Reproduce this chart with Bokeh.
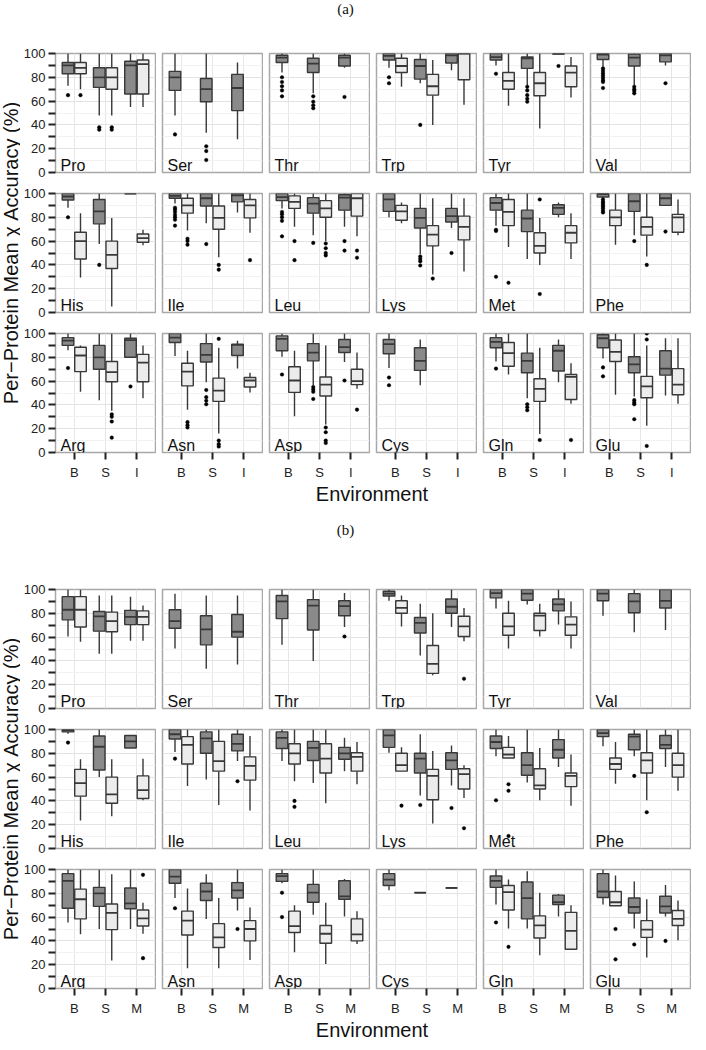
import math
from bokeh.plotting import figure
from bokeh.models import ColumnDataSource, FactorRange, FixedTicker, CategoricalTicker, Label, Range1d
from bokeh.transform import dodge
from bokeh.layouts import row, column
from bokeh.embed import file_html
from bokeh.resources import INLINE

N = None
AMINO = ["Pro", "Ser", "Thr", "Trp", "Tyr", "Val",
         "His", "Ile", "Leu", "Lys", "Met", "Phe",
         "Arg", "Asn", "Asp", "Cys", "Gln", "Glu"]
ENV_A = ["B", "S", "I"]
ENV_B = ["B", "S", "M"]
SERIES = ["dark", "light"]
Y_MAJOR = [0, 20, 40, 60, 80, 100]
Y_MINOR = [10, 30, 50, 70, 90]

# columns in each row: B-dark, B-light, S-dark, S-light, I/M-dark, I/M-light
A_LOW = [
    [73, 70, 48, 48, 55, 55], [48, N, 33.5, N, 28, N], [84, N, 66.5, N, 88, N],
    [88, 72, 75, 40, 86, 57], [90, 56, 73.5, 37, 99.5, 63], [89, N, 73.5, N, 90, N],
    [88, 29.5, 57.5, 5, 100, 56.5], [91.5, 69, 75, 46.5, 84, 67], [87.5, 72, 65, 60, 72, 64],
    [80, 75, 49, 32, 71, 34.5], [73, 55, 45, 40, 80, 45], [96, 57, 65, 47, 90, 65],
    [86, 51, 44, 35, 80, 45.5], [81, 36, 59, 16, 70.5, 50.5], [80.5, 30.5, 56.5, 23.5, 76, 53.5],
    [71, N, 56.5, N, N, N], [76.5, 65.5, 45.5, 15.5, 59, 41], [79, 48.5, 47, 22.5, 48, 41]]
A_Q1 = [
    [83, 83, 71.5, 70, 66, 66], [69, N, 59.5, N, 52, N], [92.5, N, 84, N, 89.5, N],
    [94.5, 84, 78.5, 65, 92, 78], [94.5, 70, 87.5, 64.5, 99.5, 72], [95, N, 89.5, N, 93, N],
    [94.5, 45, 74.5, 37, 100, 59], [96, 83.5, 89.5, 70, 93, 79.5], [94, 87.5, 83.5, 80, 86, 81],
    [85, 77.5, 71, 56, 76, 61], [86, 73, 68, 50, 82.5, 58.5], [97, 73, 85, 65, 90, 67.5],
    [90, 68, 70, 59.5, 80, 59.5], [92.5, 56, 76, 43, 81.5, 55], [85.5, 50.5, 77, 47.5, 84, 57],
    [83, N, 69, N, N, N], [88, 72.5, 67, 43, 68.5, 44.5], [88, 76.5, 67, 46, 65, 48.5]]
A_MED = [
    [90, 88, 80, 80, 90, 91], [80, N, 70, N, 71, N], [96.5, N, 91.5, N, 96.5, N],
    [98, 89.5, 89.5, 72.5, 98.5, 100], [97, 77, 96, 75, 100, 84], [99, N, 96.5, N, 98.5, N],
    [97.5, 60, 85, 48.5, 100, 62.5], [98, 90, 96, 79.5, 98.5, 90], [97, 93, 91.5, 87.5, 96.5, 96],
    [95, 85, 79.5, 65.5, 81, 72], [92, 84.5, 79, 56, 88, 67], [99.5, 80, 93.5, 72, 96, 80],
    [94, 81.5, 80, 67.5, 94.5, 75.5], [96.5, 68, 82, 52, 90.5, 60.5], [95.5, 60.5, 84, 57, 88.5, 60],
    [91, N, 77, N, N, N], [93, 83.5, 77, 53.5, 85.5, 63.5], [96, 84.5, 74, 55.5, 70.5, 57]]
A_Q3 = [
    [92.5, 92.5, 88, 88, 93.5, 94.5], [85, N, 79, N, 82.5, N], [98.5, N, 96, N, 98.5, N],
    [100, 96, 95, 82.5, 100, 100], [100, 84, 97, 84, 100, 89.5], [100, N, 99.5, N, 100, N],
    [100, 67.5, 95, 60, 100, 66], [100, 96, 100, 89.5, 100, 95], [100, 98, 96.5, 94, 99, 100],
    [100, 90, 87.5, 73, 87.5, 81], [96.5, 95, 86, 67, 90.5, 73], [100, 86, 100, 80, 100, 82.5],
    [96.5, 88.5, 90, 76.5, 96, 82.5], [100, 75, 91.5, 62.5, 91, 63], [98, 72, 91.5, 63.5, 95, 70],
    [95, N, 88, N, N, N], [96.5, 92.5, 83.5, 62, 90, 65.5], [99, 94.5, 80.5, 64, 85.5, 70.5]]
A_HIGH = [
    [100, 100, 100, 100, 100, 100], [100, N, 100, N, 92.5, N], [100, N, 100, N, 100, N],
    [100, 100, 100, 94.5, 100, 100], [100, 100, 100, 100, 100, 97], [100, N, 100, N, 100, N],
    [100, 83.5, 100, 79.5, 100, 69.5], [100, 100, 100, 100, 100, 100], [100, 100, 100, 100, 100, 100],
    [100, 92.5, 100, 96, 100, 96], [100, 100, 100, 79.5, 92.5, 83.5], [100, 100, 100, 100, 100, 95],
    [100, 90, 100, 100, 100, 90], [100, 85.5, 100, 88, 94, 67], [100, 85.5, 100, 90, 100, 84],
    [100, N, 95, N, N, N], [100, 100, 100, 88, 95, 75], [100, 100, 100, 90, 96, 96]]
A_OUT = [
    [[65], [65], [38, 36], [38, 36], [], []],
    [[32], [], [22, 18, 10.5], [], [], []],
    [[80, 76, 72.5, 69, 64], [], [64, 59.5, 56.5, 54], [], [63.5], []],
    [[80, 75], [], [40], [], [], []],
    [[83], [], [72, 69, 65, 62, 59.5], [], [89.5], []],
    [[87.5, 85.5, 83.5, 81.5, 79.5, 77.5, 76, 71], [], [72, 70, 68.5, 66.5], [], [75], []],
    [[80], [], [40], [], [], []],
    [[88, 86.5, 84.5, 82, 80, 78, 73], [62, 60, 57], [57.5], [40, 36], [], [44]],
    [[84.5, 82.5, 80, 77, 64], [60, 44], [58.5], [58, 54, 50, 48], [60, 52], [52, 46]],
    [[], [], [47, 45, 43, 39.5], [28.5], [50], []],
    [[69.5, 68.5, 30], [25], [], [95, 15.5], [], []],
    [[95, 93, 92, 90.5, 89, 87.5, 85.5, 84], [], [60], [40], [68], []],
    [[71], [], [], [32, 30, 26, 12.5], [55.5], []],
    [[], [25.5, 23, 21], [52.5, 46.5, 43.5, 40.5], [95.5, 10, 7, 5], [], []],
    [[65.5], [], [55, 53, 51, 45], [21, 17, 10, 8], [60.5], [36]],
    [[63, 56.5], [], [], [], [], []],
    [[70.5], [], [40.5, 38, 35.5], [10.5], [], [10.5]],
    [[71.5, 64], [], [44, 42, 40.5, 28], [100, 95, 5.5], [], []]]

B_LOW = [
    [60.5, 56, 46, 46, 57, 57], [50.5, N, 33.5, N, 37, N], [53.5, N, 40, N, 68.5, N],
    [90.5, 69, 44.5, 28, 68.5, 56.5], [84, 50.5, 87.5, 60.5, 70.5, 50.5], [78, N, 64, N, 66, N],
    [96.5, 23.5, 60, 27, 84.5, 40.5], [81, 52.5, 58, 36.5, 73.5, 32], [73.5, 56.5, 55, 38, 65, 54],
    [80.5, 65, 44.5, 21, 53, 42.5], [77.5, 76, 55.5, 40.5, 68.5, 36], [86, 54.5, 77.5, 40.5, 68.5, 48.5],
    [55.5, 45.5, 50, 23.5, 50, 46], [76, 17, 58.5, 17, 65.5, 24], [88.5, 30.5, 62, 20.5, 60.5, 37.5],
    [82.5, N, 80.5, N, 84.5, N], [70.5, 50.5, 50.5, 28, 60.5, 32.5], [70.5, 69.5, 50.5, 26, 60.5, 40.5]]
B_Q1 = [
    [74.5, 68.5, 65, 64.5, 70.5, 70.5], [67.5, N, 53.5, N, 60, N], [75.5, N, 66, N, 78, N],
    [94.5, 80, 63.5, 29.5, 80, 60.5], [93, 61.5, 91, 65.5, 82, 61.5], [90.5, N, 80.5, N, 84.5, N],
    [98, 44, 66, 38, 84.5, 42], [92, 71, 80, 65, 82, 57.5], [84, 71, 74, 63.5, 75, 65],
    [85, 65, 63.5, 41, 66.5, 50], [84, 76, 61.5, 50, 76, 52], [94, 66.5, 83, 63.5, 84, 60],
    [67.5, 58.5, 69, 49.5, 67, 52.5], [88.5, 45, 74, 34.5, 76, 40], [90, 47, 72.5, 38, 75, 40],
    [86.5, N, 80.5, N, 84.5, N], [85, 66, 58.5, 42.5, 70.5, 33], [76.5, 69.5, 63.5, 43, 63.5, 53]]
B_MED = [
    [83, 83, 77.5, 73.5, 77, 77], [73.5, N, 66.5, N, 64.5, N], [90, N, 86.5, N, 86, N],
    [96.5, 84.5, 72, 37.5, 85.5, 69], [97, 69, 96.5, 78, 87.5, 70.5], [96.5, N, 90, N, 90.5, N],
    [99.5, 55, 85.5, 45.5, 90, 49], [96, 87, 92.5, 73.5, 88, 69.5], [93, 80, 84.5, 75.5, 80, 77],
    [95, 70, 75.5, 61, 74, 62.5], [89.5, 79, 70, 53, 83, 61], [97, 71, 94, 74, 87, 70],
    [90.5, 75, 80, 63.5, 71.5, 59], [94, 57, 81.5, 43, 82.5, 50], [94.5, 52.5, 80.5, 46, 77.5, 45.5],
    [91.5, N, 80.5, N, 84.5, N], [90.5, 81, 76, 53, 72.5, 48.5], [81.5, 72.5, 68.5, 49.5, 69, 58.5]]
B_Q3 = [
    [94, 94, 81.5, 81, 82.5, 82], [83, N, 78, N, 79, N], [95, N, 91.5, N, 90.5, N],
    [98.5, 90.5, 76.5, 53, 92, 77.5], [100, 80, 100, 80, 92, 77], [100, N, 96.5, N, 100, N],
    [100, 66.5, 94.5, 60, 95, 61], [100, 94, 98, 90, 96, 77], [98, 88, 90, 88, 85, 80.5],
    [100, 80, 80, 66.5, 80.5, 67], [94.5, 85, 80.5, 67, 91.5, 63.5], [100, 76, 96, 80.5, 95, 80],
    [96.5, 83.5, 85, 71, 84.5, 66], [100, 65, 88.5, 54.5, 89, 57], [96.5, 65, 87.5, 53, 90.5, 58.5],
    [96.5, N, 80.5, N, 84.5, N], [94.5, 86.5, 89.5, 61, 78.5, 64], [96.5, 81.5, 76, 57, 77.5, 65.5]]
B_HIGH = [
    [100, 100, 95, 95, 94, 86.5], [96.5, N, 95, N, 95, N], [100, N, 100, N, 97, N],
    [100, 95, 88, 80, 100, 84.5], [100, 90.5, 100, 88, 100, 90], [100, N, 100, N, 100, N],
    [100, 75, 100, 75, 95, 75.5], [100, 100, 100, 100, 100, 94.5], [100, 100, 100, 100, 93, 89.5],
    [100, 85, 96, 82, 86.5, 70], [100, 94.5, 100, 84.5, 100, 79], [100, 89.5, 100, 100, 100, 100],
    [100, 100, 100, 96, 100, 72], [100, 84, 96, 76, 100, 68], [100, 70, 100, 72, 92, 65],
    [100, N, 80.5, N, 84.5, N], [100, 91.5, 98.5, 80.5, 79.5, 70], [100, 95, 90, 75, 87, 74]]
B_OUT = [
    [[], [], [], [], [], []],
    [[], [], [], [], [], []],
    [[], [], [], [], [60.5], []],
    [[], [], [], [], [], [25]],
    [[], [], [], [], [], []],
    [[], [], [], [], [], []],
    [[89], [], [], [], [], []],
    [[75.5], [], [], [], [56.5], []],
    [[], [40, 35], [], [], [], []],
    [[], [36], [36.5], [], [34], [17]],
    [[40.5], [54, 48.5, 10.5], [], [], [], []],
    [[], [], [61], [30.5], [], []],
    [[], [], [], [], [], [95.5, 25.5]],
    [[67.5], [], [], [], [50], []],
    [[80.5, 60], [], [], [], [], []],
    [[], [], [], [], [], []],
    [[55.5], [35], [], [], [], []],
    [[], [50, 24.5], [37], [], [40], []]]

FONT = "Liberation Sans"
LINE = "#383838"
FILLS = ["#8a8a8a", "#ececec"]
OFFS = [-0.2, 0.2]
BOXW = 0.37
FW, FH = 100, 119


def facet(k, env, low, q1, med, q3, high, outs, left, bottom):
    p = figure(frame_width=FW, frame_height=FH,
               x_range=FactorRange(factors=env, range_padding=0.1, range_padding_units="absolute"),
               y_range=Range1d(0, 100),
               x_axis_location="below" if bottom else None,
               y_axis_location="left" if left else None,
               toolbar_location=None, output_backend="svg",
               min_border_left=34 if left else 6, min_border_right=1,
               min_border_top=10, min_border_bottom=27 if bottom else 11)
    p.outline_line_color = "#a8a8a8"
    p.outline_line_width = 1.5
    p.ygrid.ticker = FixedTicker(ticks=Y_MAJOR, minor_ticks=Y_MINOR)
    p.ygrid.grid_line_color = "#e3e3e3"
    p.ygrid.minor_grid_line_color = "#f2f2f2"
    p.xgrid.ticker = CategoricalTicker()
    p.xgrid.grid_line_color = "#e6e6e6"

    for s in range(2):
        idx = [e * 2 + s for e in range(len(env)) if low[e * 2 + s] is not None]
        xc = dodge("env", OFFS[s], range=p.x_range)
        if idx:
            src = ColumnDataSource(dict(
                env=[env[j // 2] for j in idx],
                lw=[low[j] for j in idx], q1=[q1[j] for j in idx],
                med=[med[j] for j in idx], q3=[q3[j] for j in idx],
                uw=[high[j] for j in idx]))
            p.segment(x0=xc, y0="lw", x1=xc, y1="q1", source=src, line_color=LINE, line_width=1.4)
            p.segment(x0=xc, y0="q3", x1=xc, y1="uw", source=src, line_color=LINE, line_width=1.4)
            p.vbar(x=xc, width=BOXW, bottom="q1", top="q3", source=src,
                   fill_color=FILLS[s], line_color=LINE, line_width=1.4)
            p.segment(x0=dodge("env", OFFS[s] - BOXW / 2, range=p.x_range), y0="med",
                      x1=dodge("env", OFFS[s] + BOXW / 2, range=p.x_range), y1="med",
                      source=src, line_color=LINE, line_width=1.8)
        oe, ov = [], []
        for e in range(len(env)):
            for v in outs[e * 2 + s]:
                oe.append(env[e])
                ov.append(v)
        if ov:
            osrc = ColumnDataSource(dict(env=oe, val=ov))
            p.scatter(x=xc, y="val", source=osrc, marker="circle", size=3.6,
                      fill_color="black", line_color="black", line_width=0.4)

    p.add_layout(Label(x=5, y=7, x_units="screen", y_units="screen", text=AMINO[k],
                       text_font=FONT, text_font_size="16px", text_color="#111111",
                       text_baseline="alphabetic"))

    if left:
        ax = p.yaxis[0]
        ax.ticker = FixedTicker(ticks=Y_MAJOR, minor_ticks=Y_MINOR)
        ax.axis_line_color = None
        ax.major_tick_in = 0
        ax.major_tick_out = 7
        ax.minor_tick_in = 0
        ax.minor_tick_out = 7
        ax.major_tick_line_color = "#222222"
        ax.minor_tick_line_color = "#222222"
        ax.major_tick_line_width = 2
        ax.minor_tick_line_width = 2
        ax.major_label_text_font = FONT
        ax.major_label_text_font_size = "13px"
        ax.major_label_text_color = "#222222"
        ax.major_label_standoff = 3
    if bottom:
        ax = p.xaxis[0]
        ax.axis_line_color = None
        ax.major_tick_in = 0
        ax.major_tick_out = 7
        ax.major_tick_line_color = "#222222"
        ax.major_tick_line_width = 2
        ax.major_label_text_font = FONT
        ax.major_label_text_font_size = "13px"
        ax.major_label_text_color = "#222222"
        ax.major_label_standoff = 5
    return p


def strip(w, h):
    p = figure(width=w, height=h, x_range=Range1d(0, 1), y_range=Range1d(0, 1),
               x_axis_location=None, y_axis_location=None, toolbar_location=None,
               output_backend="svg", min_border=0)
    p.outline_line_color = None
    p.grid.visible = False
    return p


def build_panel(env, LOW, Q1, MED, Q3, HIGH, OUT):
    rows = []
    for r in range(3):
        figs = []
        for c in range(6):
            k = r * 6 + c
            figs.append(facet(k, env, LOW[k], Q1[k], MED[k], Q3[k], HIGH[k], OUT[k], c == 0, r == 2))
        rows.append(row(*figs))
    return column(*rows)


TOTAL_W = 690
PANEL_H = 436
YTITLE = "Per\u2212Protein Mean \u03c7 Accuracy (%)"


def ytitle_strip():
    p = strip(20, PANEL_H)
    p.add_layout(Label(x=10, y=PANEL_H - 209.5, x_units="screen", y_units="screen",
                       text=YTITLE, angle=math.pi / 2, text_align="center", text_baseline="middle",
                       text_font=FONT, text_font_size="20px", text_color="#111111"))
    return p


def title_strip(text, h, y):
    p = strip(TOTAL_W, h)
    p.add_layout(Label(x=TOTAL_W / 2, y=y, x_units="screen", y_units="screen", text=text,
                       text_align="center", text_baseline="middle",
                       text_font="Liberation Serif", text_font_size="15px", text_color="#111111"))
    return p


def env_strip():
    p = strip(TOTAL_W, 22)
    p.add_layout(Label(x=371.5, y=11, x_units="screen", y_units="screen", text="Environment",
                       text_align="center", text_baseline="middle",
                       text_font=FONT, text_font_size="20px", text_color="#111111"))
    return p


layout = column(
    title_strip("(a)", 43, 35),
    row(ytitle_strip(), build_panel(ENV_A, A_LOW, A_Q1, A_MED, A_Q3, A_HIGH, A_OUT)),
    env_strip(),
    title_strip("(b)", 75, 50),
    row(ytitle_strip(), build_panel(ENV_B, B_LOW, B_Q1, B_MED, B_Q3, B_HIGH, B_OUT)),
    env_strip(),
)

open("out.html", "w").write(file_html(layout, INLINE))
